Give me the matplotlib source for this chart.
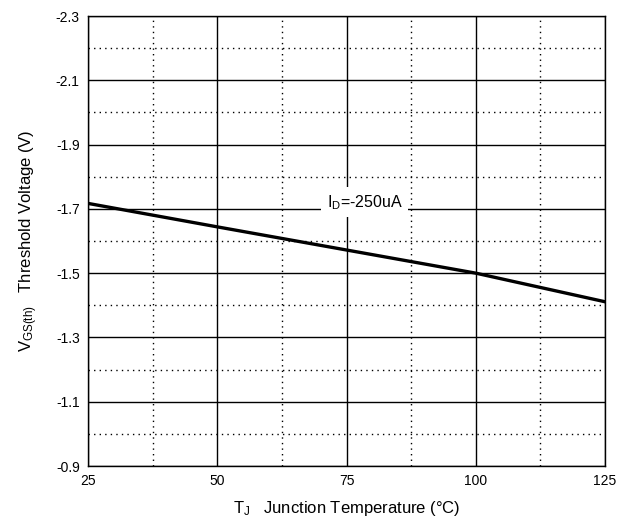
import matplotlib
matplotlib.use('Agg')
import matplotlib.pyplot as plt
import numpy as np

plt.rcParams['font.family'] = ['Liberation Sans', 'DejaVu Sans']
plt.rcParams['mathtext.fontset'] = 'custom'
plt.rcParams['mathtext.rm'] = 'Liberation Sans'
plt.rcParams['mathtext.it'] = 'Liberation Sans'

# data
temp = [25, 50, 75, 100, 125]
vth = [-1.717, -1.644, -1.572, -1.500, -1.411]

x_ticks = [25, 50, 75, 100, 125]
y_ticks = [-0.9, -1.1, -1.3, -1.5, -1.7, -1.9, -2.1, -2.3]

fig = plt.figure(figsize=(6.26, 5.2), dpi=100)
ax = fig.add_axes([88/626, 1-466/520, (605-88)/626, (466-16)/520])

ax.set_xlim(25, 125)
ax.set_ylim(-0.9, -2.3)
ax.set_xticks(x_ticks)
ax.set_yticks(y_ticks)
ax.set_yticklabels(['%.1f' % v for v in y_ticks])
ax.set_xticks(np.arange(37.5, 125, 25), minor=True)
ax.set_yticks(np.arange(-1.0, -2.3, -0.2), minor=True)
ax.tick_params(which='both', length=0, labelsize=10, pad=6)

ax.grid(which='major', color='black', linestyle='-', linewidth=1.0)
ax.grid(which='minor', color='black', linestyle=(0, (1, 3)), linewidth=1.0)
ax.set_axisbelow(True)
for s in ax.spines.values():
    s.set_linewidth(1.0)

ax.plot(temp, vth, color='black', linewidth=2.4, zorder=3)

ax.text(78.5, -1.72, r'I$_\mathregular{D}$=-250uA', fontsize=11.5, ha='center', va='center',
        bbox=dict(facecolor='white', edgecolor='none', pad=4), zorder=4)

ax.set_xlabel(r'T$_\mathregular{J}$   Junction Temperature (°C)', fontsize=12, labelpad=8)
ax.set_ylabel(r'V$_\mathregular{GS(th)}$   Threshold Voltage (V)', fontsize=12, labelpad=11)

plt.savefig('out.png', dpi=100)
